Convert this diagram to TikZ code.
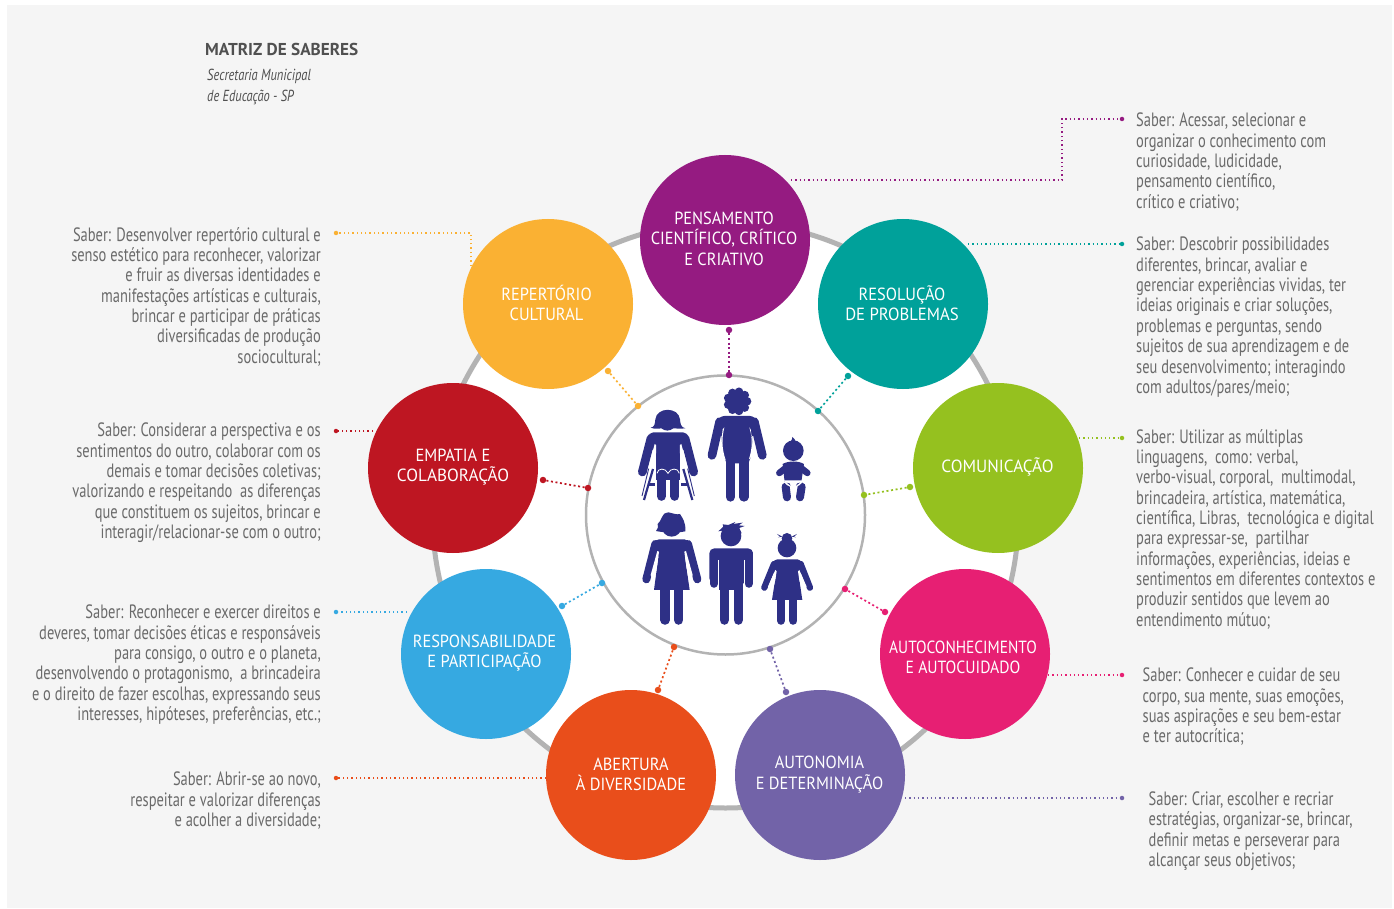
\documentclass[tikz,border=0pt]{standalone}
\usepackage{fontspec}
\setmainfont{PT Sans}
\newfontfamily\cond[FakeStretch=0.75]{PT Sans}
\newfontfamily\condit[FakeStretch=0.78]{PT Sans Italic}
\newfontfamily\lab[FakeStretch=0.93]{PT Sans}
\definecolor{bgc}{HTML}{F5F5F5}
\definecolor{ringc}{HTML}{B3B3B3}
\definecolor{txtc}{HTML}{6A6A6A}
\definecolor{titc}{HTML}{505050}
\definecolor{navy}{HTML}{2E3086}
\definecolor{cpurple}{HTML}{951B81}
\definecolor{cteal}{HTML}{00A19A}
\definecolor{cgreen}{HTML}{95C11F}
\definecolor{cpink}{HTML}{E71F73}
\definecolor{cviolet}{HTML}{7263A8}
\definecolor{corange}{HTML}{E94E1B}
\definecolor{cblue}{HTML}{36A9E1}
\definecolor{cred}{HTML}{BE1622}
\definecolor{cyellow}{HTML}{FAB133}
\newcommand{\wid}[2]{\scalebox{#1}[1]{#2}}
\tikzset{
  x=1pt,y=-1pt,
  bigc/.style={circle,minimum size=170pt,inner sep=0pt,fill=#1},
  bigl/.style={inner sep=0pt,align=center,text=white,font=\lab\fontsize{17.6}{20.5}\selectfont},
  dotn/.style={circle,fill=#1,minimum size=6.5pt,inner sep=0pt},
  tipn/.style={circle,fill=#1,minimum size=4.5pt,inner sep=0pt},
  inlink/.style={draw=#1,line width=1.7pt,dash pattern=on 2pt off 2.6pt},
  outlink/.style={draw=#1,line width=1.15pt,dash pattern=on 1.3pt off 3pt},
  leftt/.style={anchor=north east,align=right,text=txtc,inner sep=0pt,font=\cond\fontsize{19.3}{20.35}\selectfont},
  rightt/.style={anchor=north west,align=left,text=txtc,inner sep=0pt,font=\cond\fontsize{19.3}{20.35}\selectfont},
  limb/.style={draw=navy,line cap=round,line width=#1,fill=none},
  fig/.style={fill=navy,draw=none},
  gapl/.style={draw=white,line width=0.8pt,fill=none}
}
\begin{document}
\begin{tikzpicture}
\useasboundingbox (0,0) rectangle (1394,909);
\fill[white] (0,0) rectangle (1394,909);
\fill[bgc] (7,5) rectangle (1392,908);
\node[circle,fill=white,draw=ringc,line width=5pt,minimum size=586pt,inner sep=0pt] (ring) at (725.5,515) {};
\node[circle,fill=white,draw=ringc,line width=2.5pt,minimum size=279pt,inner sep=0pt] (hub) at (725.5,515) {};

% big circles
\node[bigc=cpurple] (pur) at (725,240) {};
\node[bigc=cteal] (tea) at (903,304) {};
\node[bigc=cgreen] (gre) at (998,468) {};
\node[bigc=cpink] (pin) at (965,654) {};
\node[bigc=cviolet] (vio) at (820,775) {};
\node[bigc=corange] (ora) at (631,775) {};
\node[bigc=cblue] (blu) at (486,654) {};
\node[bigc=cred] (red) at (453,468) {};
\node[bigc=cyellow] (yel) at (548,304) {};
% circle labels
\node[bigl] (lpur) at (724,238.5) {PENSAMENTO\\CIENTÍFICO, CRÍTICO\\E CRIATIVO};
\node[bigl] (ltea) at (902,303) {RESOLUÇÃO\\\wid{1.02}{DE PROBLEMAS}};
\node[bigl] (lgre) at (997.5,467) {\wid{1.05}{COMUNICAÇÃO}};
\node[bigl] (lpin) at (963,657.5) {\wid{.94}{AUTOCONHECIMENTO}\\\wid{.96}{E AUTOCUIDADO}};
\node[bigl] (lvio) at (819.5,774.5) {AUTONOMIA\\E DETERMINAÇÃO};
\node[bigl] (lora) at (631,774.5) {ABERTURA\\À DIVERSIDADE};
\node[bigl] (lblu) at (484.5,653) {RESPONSABILIDADE\\E PARTICIPAÇÃO};
\node[bigl] (lred) at (453,467) {EMPATIA E\\\wid{1.05}{COLABORAÇÃO}};
\node[bigl] (lyel) at (546.5,303) {REPERTÓRIO\\CULTURAL};

% inner connector dots
\foreach \n/\c/\ax/\ay/\bx/\by in {
 pur/cpurple/729/330/729/375,
 tea/cteal/848/376/818/411,
 gre/cgreen/910/487/864/495,
 pin/cpink/885/612/845/589,
 vio/cviolet/786/692/770/649,
 ora/corange/658/690/674/647,
 blu/cblue/562/606/602/583,
 red/cred/543/480/588/488,
 yel/cyellow/608/371/638/406}{
  \node[dotn=\c] (\n a) at (\ax,\ay) {};
  \node[dotn=\c] (\n b) at (\bx,\by) {};
  \draw[inlink=\c] (\n a) -- (\n b);
}

% outer connectors
\node[tipn=cpurple] (tpur) at (1122,119) {};
\coordinate (spur) at (791,180);
\draw[outlink=cpurple] (spur) -- (1062,180) -- (1062,119) -- (tpur);
\node[tipn=cteal] (ttea) at (1122,244) {};
\coordinate (stea) at (968,244);
\draw[outlink=cteal] (stea) -- (ttea);
\node[tipn=cgreen] (tgre) at (1122,438) {};
\coordinate (sgre) at (1079,438);
\draw[outlink=cgreen] (sgre) -- (tgre);
\node[tipn=cpink] (tpin) at (1122,675) {};
\coordinate (spin) at (1048,675);
\draw[outlink=cpink] (spin) -- (tpin);
\node[tipn=cviolet] (tvio) at (1122,798) {};
\coordinate (svio) at (905,798);
\draw[outlink=cviolet] (svio) -- (tvio);
\node[tipn=corange] (tora) at (336,778) {};
\coordinate (sora) at (546,778);
\draw[outlink=corange] (sora) -- (tora);
\node[tipn=cblue] (tblu) at (336,612) {};
\coordinate (sblu) at (407,612);
\draw[outlink=cblue] (sblu) -- (tblu);
\node[tipn=cred] (tred) at (336,431) {};
\coordinate (sred) at (373,431);
\draw[outlink=cred] (sred) -- (tred);
\node[tipn=cyellow] (tyel) at (336,233) {};
\coordinate (syel) at (471,266);
\draw[outlink=cyellow] (syel) -- (471,233) -- (tyel);

% titles
\node[anchor=west,inner sep=0pt,text=titc,font=\bfseries\fontsize{17.2}{18}\selectfont] (title) at (205,49) {MATRIZ DE SABERES};
\node[anchor=north west,align=left,inner sep=0pt,text=titc,font=\condit\fontsize{16}{21}\selectfont] (sub) at (207,69) {Secretaria Municipal\\de Educação - SP};

% left texts
\node[leftt] (t1) at (321,227) {Saber: Desenvolver repertório cultural e\\senso estético para reconhecer, valorizar\\e fruir as diversas identidades e\\manifestações artísticas e culturais,\\brincar e participar de práticas\\diversificadas de produção\\sociocultural;};
\node[leftt] (t2) at (321,423) {Saber: Considerar a perspectiva e os\\sentimentos do outro, colaborar com os\\demais e tomar decisões coletivas;\\valorizando e respeitando~ as diferenças\\que constituem os sujeitos, brincar e\\interagir/relacionar-se com o outro;};
\node[leftt] (t3) at (321,605) {Saber: Reconhecer e exercer direitos e\\deveres, tomar decisões éticas e responsáveis\\para consigo, o outro e o planeta,\\desenvolvendo o protagonismo,~ a brincadeira\\e o direito de fazer escolhas, expressando seus\\interesses, hipóteses, preferências, etc.;};
\node[leftt] (t4) at (321,772) {Saber: Abrir-se ao novo,\\respeitar e valorizar diferenças\\e acolher a diversidade;};

% right texts
\node[rightt] (r1) at (1136,113) {Saber: Acessar, selecionar e\\organizar o conhecimento com\\curiosidade, ludicidade,\\pensamento científico,\\crítico e criativo;};
\node[rightt] (r2) at (1136,237) {Saber: Descobrir possibilidades\\diferentes, brincar, avaliar e\\gerenciar experiências vividas, ter\\ideias originais e criar soluções,\\problemas e perguntas, sendo\\sujeitos de sua aprendizagem e de\\seu desenvolvimento; interagindo\\com adultos/pares/meio;};
\node[rightt] (r3) at (1136,429) {Saber: Utilizar as múltiplas\\linguagens,~ como: verbal,\\verbo-visual, corporal,~ multimodal,\\brincadeira, artística, matemática,\\científica, Libras,~ tecnológica e digital\\para expressar-se,~ partilhar\\informações, experiências, ideias e\\sentimentos em diferentes contextos e\\produzir sentidos que levem ao\\entendimento mútuo;};
\node[rightt] (r4) at (1142.5,668) {Saber: Conhecer e cuidar de seu\\corpo, sua mente, suas emoções,\\suas aspirações e seu bem-estar\\e ter autocrítica;};
\node[rightt] (r5) at (1148.5,791.5) {Saber: Criar, escolher e recriar\\estratégias, organizar-se, brincar,\\definir metas e perseverar para\\alcançar seus objetivos;};

% people (drawn in the coordinates of a 3x crop)
\begin{scope}[shift={(580,370)},x=0.3333pt,y=-0.3333pt]
 % wheelchair person
 \fill[fig] (212,173) .. controls (224,172) and (225,160) .. (226,148) .. controls (230,110) and (296,110) .. (300,148) .. controls (301,160) and (302,172) .. (316,175) .. controls (295,178) and (285,174) .. (280,175) .. controls (268,184) and (256,184) .. (244,175) .. controls (236,176) and (225,178) .. (212,173) -- cycle;
 \fill[fig,rounded corners=5pt] (205,240) -- (205,187) -- (324,187) -- (324,240) -- cycle;
 \fill[fig] (228,210) rectangle (300,330);
 \draw[limb=8.7pt] (213,205) -- (187,306);
 \draw[limb=8.7pt] (315,205) -- (341,306);
 \fill[white] (228,225) -- (224,222) -- (205,295) -- (214,295) -- (228,250) -- cycle;
 \fill[white] (300,225) -- (304,222) -- (323,295) -- (314,295) -- (300,250) -- cycle;
 \draw[limb=9pt] (244,315) -- (244,379);
 \draw[limb=9pt] (285,315) -- (285,379);
 \draw[gapl] (231,310) .. controls (233,293) and (257,293) .. (264,310) .. controls (271,293) and (295,293) .. (298,310);
 \draw[navy,line width=0.9pt] (206,296) -- (186,378);
 \draw[navy,line width=2.2pt] (219,297) -- (192,390);
 \draw[navy,line width=0.9pt] (323,296) -- (343,378);
 \draw[navy,line width=2.2pt] (310,297) -- (337,390);
 \fill[fig] (205,338) rectangle (226,349);
 \fill[fig] (303,338) rectangle (324,349);
 % large person
 \fill[fig] (472,94) circle (30);
 \foreach \a in {0,40,...,320}{\fill[fig] (472,94) ++(\a:29) circle (13);}
 \fill[fig,rounded corners=6pt] (415,200) -- (415,138) -- (528,138) -- (528,200) -- cycle;
 \fill[fig] (427,170) .. controls (420,230) and (432,260) .. (440,280) -- (505,280) .. controls (516,255) and (522,230) .. (512,170) -- cycle;
 \draw[limb=8.7pt] (419,155) -- (396,256);
 \draw[limb=8.7pt] (523,155) -- (547,256);
 \fill[white] (428,178) -- (433,172) .. controls (425,205) and (425,235) .. (437,270) -- (420,250) -- cycle;
 \fill[white] (512,178) -- (508,172) .. controls (518,205) and (518,235) .. (506,270) -- (522,250) -- cycle;
 \draw[limb=9.3pt] (451,270) -- (451,381);
 \draw[limb=9.3pt] (492,270) -- (492,381);
 % baby
 \fill[fig] (640,242) circle (31);
 \fill[fig] (632,215) .. controls (636,208) and (638,205) .. (637,201) .. controls (642,205) and (646,210) .. (648,216) -- cycle;
 \fill[fig] (608,282) .. controls (625,272) and (655,272) .. (672,282) -- (664,336) -- (614,336) -- cycle;
 \draw[limb=6.5pt] (622,290) -- (598,309);
 \draw[limb=6.5pt] (658,290) -- (682,309);
 \draw[limb=8pt] (617,350) -- (621,382);
 \draw[limb=8pt] (665,350) -- (660,382);
 \fill[white] (612,331) -- (668,331) .. controls (665,345) and (655,350) .. (640,350) .. controls (625,350) and (615,345) .. (612,331) -- cycle;
 \fill[fig] (620,338) .. controls (628,338) and (632,342) .. (632,347) .. controls (628,344) and (624,342) .. (620,338) -- cycle;
 \fill[fig] (660,338) .. controls (652,338) and (648,342) .. (648,347) .. controls (652,344) and (656,342) .. (660,338) -- cycle;
 % woman in dress
 \fill[fig] (275,470) circle (30);
 \fill[fig] (228,483) .. controls (236,478) and (234,468) .. (233,462) .. controls (245,455) and (245,425) .. (265,427) .. controls (280,430) and (290,435) .. (300,432) .. controls (308,445) and (318,458) .. (316,484) .. controls (290,490) and (250,488) .. (228,483) -- cycle;
 \fill[fig,rounded corners=5pt] (222,560) -- (222,508) -- (328,508) -- (328,560) -- cycle;
 \fill[fig] (238,540) -- (312,540) -- (329,660) -- (222,660) -- cycle;
 \draw[limb=8pt] (226,522) -- (199,628);
 \draw[limb=8pt] (324,522) -- (352,628);
 \fill[white] (237,545) -- (232,543) -- (212,615) -- (222,640) -- (231,590) -- cycle;
 \fill[white] (313,545) -- (318,543) -- (338,615) -- (328,640) -- (319,590) -- cycle;
 \draw[limb=9.6pt] (255,655) -- (255,750);
 \draw[limb=9.6pt] (296,655) -- (296,750);
 % boy
 \fill[fig] (453,498) circle (31);
 \fill[fig] (415,484) -- (430,470) -- (428,463) -- (445,465) -- (466,456) -- (460,462) -- (488,458) -- (476,466) -- (494,468) -- (478,474) -- (485,490) -- (430,490) -- (425,482) -- cycle;
 \fill[fig,rounded corners=5pt] (388,640) -- (388,535) -- (519,535) -- (519,640) -- cycle;
 \fill[fig] (418,580) rectangle (490,660);
 \draw[limb=8.3pt] (402,550) -- (402,641);
 \draw[limb=8.3pt] (506,550) -- (506,641);
 \draw[limb=9.6pt] (433,650) -- (433,750);
 \draw[limb=9.6pt] (475,650) -- (475,750);
 \draw[white,line width=0.6pt] (416,570) -- (416,654);
 \draw[white,line width=0.6pt] (492,570) -- (492,654);
 % girl
 \fill[fig] (621,534) circle (28);
 \fill[fig] (621,505) circle (16);
 \fill[fig] (607,500) -- (591,492) -- (600,500) -- (594,502) -- cycle;
 \fill[fig] (635,500) -- (651,492) -- (642,500) -- (648,502) -- cycle;
 \fill[fig,rounded corners=4pt] (578,615) -- (580,568) -- (664,568) -- (666,615) -- cycle;
 \fill[fig] (590,600) -- (654,600) -- (667,690) -- (576,690) -- cycle;
 \draw[limb=6.3pt] (582,582) -- (553,653);
 \draw[limb=6.3pt] (662,582) -- (690,653);
 \fill[white] (590,604) -- (586,600) -- (564,650) -- (577,665) -- (586,630) -- cycle;
 \fill[white] (654,604) -- (658,600) -- (680,650) -- (667,665) -- (658,630) -- cycle;
 \draw[limb=8.3pt] (603,685) -- (603,752);
 \draw[limb=8.3pt] (640,685) -- (640,752);
\end{scope}
\end{tikzpicture}
\end{document}
